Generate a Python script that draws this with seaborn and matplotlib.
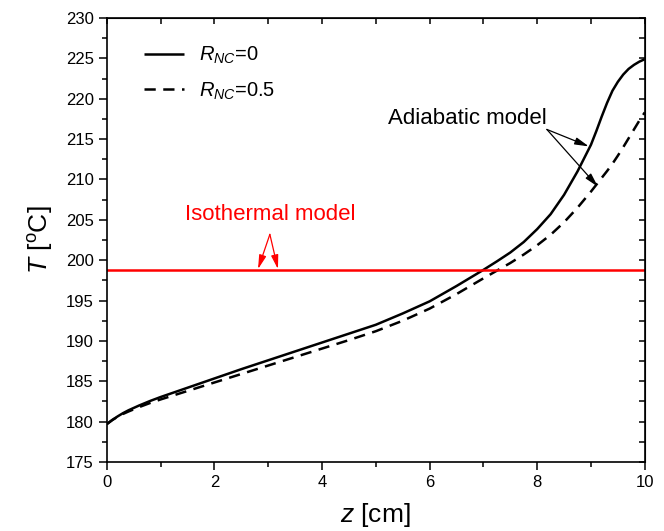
import matplotlib
matplotlib.use("Agg")
import matplotlib.pyplot as plt
import seaborn as sns
import pandas as pd
from matplotlib.ticker import MultipleLocator

z_cm = [0, 0.1, 0.2, 0.3, 0.4, 0.6, 0.8, 1.0, 1.5, 2, 2.5, 3, 3.5, 4, 4.5, 5,
        5.5, 6, 6.5, 7, 7.25, 7.5, 7.75, 8, 8.25, 8.5, 8.75, 9, 9.1, 9.2, 9.3,
        9.4, 9.5, 9.6, 9.7, 9.8, 9.9, 10]
T_rnc0 = [179.7, 180.2, 180.65, 181.05, 181.4, 182.0, 182.55, 183.05, 184.2,
          185.35, 186.5, 187.6, 188.7, 189.8, 190.9, 192.0, 193.4, 194.9, 196.8,
          198.8, 199.85, 200.95, 202.25, 203.85, 205.7, 208.1, 211.0, 214.3,
          216.0, 217.8, 219.5, 221.0, 222.1, 223.0, 223.7, 224.2, 224.6, 224.9]
T_rnc05 = [179.7, 180.2, 180.6, 180.95, 181.25, 181.8, 182.3, 182.75, 183.8,
           184.85, 185.9, 186.95, 188.0, 189.05, 190.1, 191.2, 192.5, 194.0,
           195.8, 197.75, 198.7, 199.65, 200.7, 201.85, 203.15, 204.7, 206.5,
           208.5, 209.35, 210.2, 211.05, 211.95, 212.95, 214.0, 215.1, 216.2,
           217.3, 218.3]
T_iso = 198.8
z_iso = [0, 10]

sns.set_style("ticks")
plt.rcParams['font.family'] = ['Liberation Sans', 'DejaVu Sans']
plt.rcParams['mathtext.fontset'] = 'custom'
plt.rcParams['mathtext.rm'] = 'Liberation Sans'
plt.rcParams['mathtext.it'] = 'Liberation Sans:italic'
for k in ['text.color', 'axes.labelcolor', 'xtick.color', 'ytick.color',
          'axes.edgecolor']:
    plt.rcParams[k] = 'black'

df = pd.DataFrame({
    'z': z_cm * 2,
    'T': T_rnc0 + T_rnc05,
    'series': [r'$R_{NC}$=0'] * len(z_cm) + [r'$R_{NC}$=0.5'] * len(z_cm),
})

fig = plt.figure(figsize=(6.64, 5.31), dpi=100)
ax = fig.add_axes([0.161, 0.130, 0.810, 0.836])

sns.lineplot(data=df, x='z', y='T', hue='series', style='series',
             palette=['black', 'black'], dashes=[(1, 0), (4.5, 3)],
             linewidth=1.8, ax=ax, legend=True)
sns.lineplot(x=z_iso, y=[T_iso, T_iso], color='#ff0000', linewidth=1.8, ax=ax)

ax.set_xlim(0, 10)
ax.set_ylim(175, 230)
ax.xaxis.set_major_locator(MultipleLocator(2))
ax.xaxis.set_minor_locator(MultipleLocator(1))
ax.yaxis.set_major_locator(MultipleLocator(5))
ax.yaxis.set_minor_locator(MultipleLocator(2.5))
ax.tick_params(which='major', direction='out', length=6, width=1.1, labelsize=12)
ax.tick_params(which='minor', direction='out', length=3.5, width=1.1)
for s in ax.spines.values():
    s.set_linewidth(1.2)
    s.set_visible(True)

top = ax.secondary_xaxis('top')
top.xaxis.set_major_locator(MultipleLocator(1))
top.tick_params(direction='in', length=4, width=1.1, labeltop=False)
right = ax.secondary_yaxis('right')
right.yaxis.set_major_locator(MultipleLocator(2.5))
right.tick_params(direction='in', length=4, width=1.1, labelright=False)

ax.set_xlabel(r'$z$ [cm]', fontsize=19, labelpad=8)
ax.set_ylabel(r'$T$ [$^{\mathrm{o}}$C]', fontsize=19, labelpad=8)

leg = ax.legend(loc='upper left', bbox_to_anchor=(0.035, 0.98), frameon=False,
                fontsize=14.5, handlelength=2.0, handletextpad=0.75,
                labelspacing=0.7)

ax.text(8.18, 216.3, 'Adiabatic model', fontsize=16, ha='right', va='bottom')
arr = dict(arrowstyle='-|>,head_length=0.7,head_width=0.18', color='black',
           lw=0.9, mutation_scale=12, shrinkA=0, shrinkB=0)
ax.annotate('', xy=(8.96, 214.1), xytext=(8.18, 216.2), arrowprops=arr)
ax.annotate('', xy=(9.13, 209.1), xytext=(8.18, 216.2), arrowprops=arr)

ax.text(3.03, 204.3, 'Isothermal model', fontsize=16, ha='center', va='bottom',
        color='#ff0000')
arr_r = dict(arrowstyle='-|>,head_length=0.7,head_width=0.18', color='#ff0000',
             lw=0.9, mutation_scale=12, shrinkA=0, shrinkB=0)
ax.annotate('', xy=(2.81, 198.9), xytext=(3.03, 203.2), arrowprops=arr_r)
ax.annotate('', xy=(3.18, 198.9), xytext=(3.03, 203.2), arrowprops=arr_r)

fig.savefig('out.png', dpi=100)
